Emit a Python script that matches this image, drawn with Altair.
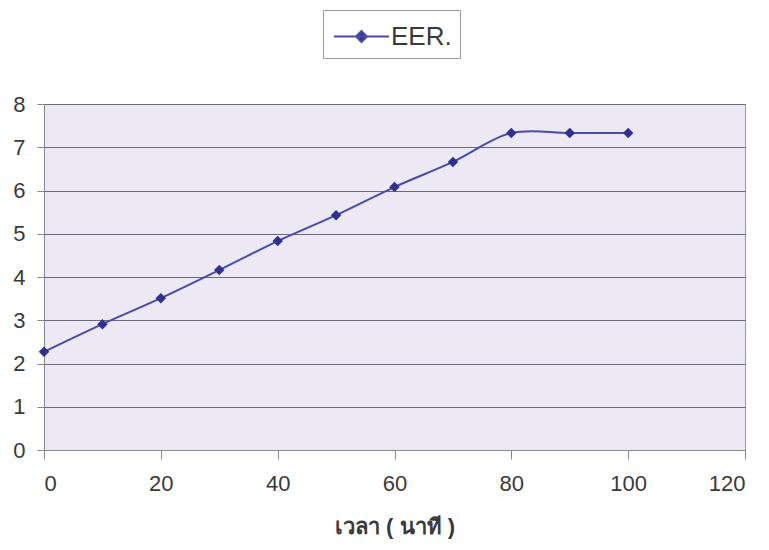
import altair as alt
import pandas as pd

times = [0, 10, 20, 30, 40, 50, 60, 70, 80, 90, 100]
eer = [2.27, 2.91, 3.51, 4.16, 4.83, 5.43, 6.08, 6.66, 7.33, 7.33, 7.33]
series = ["EER."] * len(times)

df = pd.DataFrame({"t": times, "v": eer, "s": series})

x = alt.X("t:Q", scale=alt.Scale(domain=[0, 120], nice=False),
          axis=alt.Axis(values=[0, 20, 40, 60, 80, 100, 120], title="เวลา ( นาที )",
                        grid=False, tickSize=9, tickColor="#888", domainColor="#888",
                        labelFontSize=22, labelPadding=14, labelColor="#3a3a3a",
                        titleFontSize=22, titleFontWeight="bold", titleColor="#3a3a3a",
                        titlePadding=22, labelFont="Liberation Sans", titleFont="Liberation Sans"))
y = alt.Y("v:Q", scale=alt.Scale(domain=[0, 8], nice=False),
          axis=alt.Axis(values=list(range(9)), title=None, grid=True, gridColor="#6a6a7a",
                        gridWidth=1.2, tickSize=7, tickColor="#888", domainColor="#888",
                        labelFontSize=22, labelPadding=12, labelColor="#3a3a3a",
                        labelFont="Liberation Sans"))

color = alt.Color("s:N", scale=alt.Scale(range=["#4a4aa8"]),
                  legend=alt.Legend(title=None, orient="none", legendX=279, legendY=-94,
                                    strokeColor="#999", padding=8,
                                    symbolType="M-1.6,0H1.6M0,-0.32L0.32,0L0,0.32L-0.32,0Z",
                                    symbolSize=1180, symbolStrokeWidth=2, symbolOffset=12,
                                    symbolFillColor="#303090", symbolStrokeColor="#4a4aa8",
                                    labelFontSize=26, labelColor="#3a3a3a", labelFont="Liberation Sans",
                                    labelOffset=11))

line = alt.Chart(df).mark_line(interpolate="catmull-rom", strokeWidth=2).encode(x=x, y=y, color=color)
pts = alt.Chart(df).mark_point(shape="diamond", filled=True, size=110, color="#303090", opacity=1).encode(x=x, y=y)

chart = (line + pts).properties(
    width=701, height=346,
    autosize=alt.AutoSizeParams(type="none"),
    padding={"left": 36, "top": 96, "right": 16, "bottom": 96},
    background="white",
).configure_view(fill="#ece8f4", stroke="#999")

chart.save("out.html", embed_options={"renderer": "svg", "actions": False})
